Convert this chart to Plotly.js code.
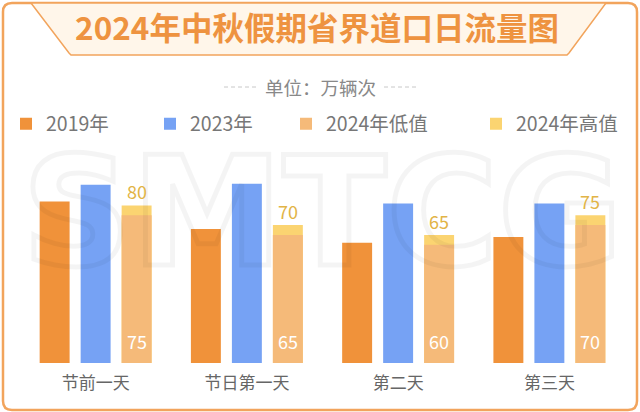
<!DOCTYPE html>
<html>
<head>
<meta charset="utf-8">
<script src="https://cdn.plot.ly/plotly-3.0.1.min.js"></script>
<style>html,body{margin:0;padding:0;background:#fff;}#chart{width:640px;height:412px;}</style>
</head>
<body>
<div id="chart"></div>
<script>
// ---- data ----
const categories = ["节前一天", "节日第一天", "第二天", "第三天"];
const v2019 = [82, 68, 61, 64];
const v2023 = [90.5, 91, 81, 81];
const v2024Low = [75, 65, 60, 70];
const v2024High = [80, 70, 65, 75];
const seriesNames = ["2019年", "2023年", "2024年低值", "2024年高值"];
const titleText = "2024年中秋假期省界道口日流量图";
const unitText = "单位：万辆次";
const watermarkText = "SMTCG";

// ---- layout helpers (pixel -> paper) ----
const W = 640, H = 412;
const M = {l: 20, r: 15, t: 150, b: 49};
const PW = W - M.l - M.r, PH = H - M.t - M.b;
const px = x => (x - M.l) / PW;
const py = y => (H - M.b - y) / PH;

const FONT = '"Noto Sans CJK SC", "Noto Sans", sans-serif';
const orange = '#F0923A', blue = '#76A2F4', lowC = '#F5BA79', highC = '#FBD471';
const barW = 0.198, pitch = 0.271;

function rrect(x0, y0, x1, y1, r) {
  const X = v => px(v).toFixed(5), Y = v => py(v).toFixed(5);
  return `M${X(x0 + r)},${Y(y0)} L${X(x1 - r)},${Y(y0)} Q${X(x1)},${Y(y0)} ${X(x1)},${Y(y0 + r)} ` +
         `L${X(x1)},${Y(y1 - r)} Q${X(x1)},${Y(y1)} ${X(x1 - r)},${Y(y1)} ` +
         `L${X(x0 + r)},${Y(y1)} Q${X(x0)},${Y(y1)} ${X(x0)},${Y(y1 - r)} ` +
         `L${X(x0)},${Y(y0 + r)} Q${X(x0)},${Y(y0)} ${X(x0 + r)},${Y(y0)} Z`;
}
function poly(pts) {
  return 'M' + pts.map(p => px(p[0]).toFixed(5) + ',' + py(p[1]).toFixed(5)).join(' L') + ' Z';
}

const traces = [
  {type: 'bar', name: seriesNames[0], x: categories, y: v2019, width: barW, offset: -pitch - barW / 2,
   marker: {color: orange}, legend: 'legend', hoverinfo: 'skip'},
  {type: 'bar', name: seriesNames[1], x: categories, y: v2023, width: barW, offset: -barW / 2,
   marker: {color: blue}, legend: 'legend2', hoverinfo: 'skip'},
  {type: 'bar', name: seriesNames[3], x: categories, y: v2024High, width: barW, offset: pitch - barW / 2,
   marker: {color: highC}, legend: 'legend4', hoverinfo: 'skip'},
  {type: 'bar', name: seriesNames[2], x: categories, y: v2024Low, width: barW, offset: pitch - barW / 2,
   marker: {color: lowC}, legend: 'legend3', hoverinfo: 'skip'}
];

const groupShift = pitch * PW / 4;
const lowLabels = categories.map((c, i) => ({
  x: c, y: 0, xref: 'x', yref: 'y', xshift: groupShift, yshift: 7, yanchor: 'bottom',
  text: String(v2024Low[i]), showarrow: false, font: {family: FONT, size: 18, color: '#ffffff'}
}));
const highLabels = categories.map((c, i) => ({
  x: c, y: v2024High[i], xref: 'x', yref: 'y', xshift: groupShift, yshift: -1, yanchor: 'bottom',
  text: String(v2024High[i]), showarrow: false, font: {family: FONT, size: 18, color: '#E2B446'}
}));

const legendCommon = {orientation: 'h', xanchor: 'left', yanchor: 'middle', xref: 'container', yref: 'container',
  bgcolor: 'rgba(0,0,0,0)', font: {family: FONT, size: 19.5, color: '#777777'}, itemwidth: 30};
const legY = 1 - 124 / H;

const layout = {
  width: W, height: H, margin: Object.assign({autoexpand: false}, M),
  paper_bgcolor: '#ffffff', plot_bgcolor: 'rgba(0,0,0,0)',
  barmode: 'overlay',
  title: {text: titleText, font: {family: FONT, size: 31.5, color: '#EE9340', weight: 'bold'},
          x: 317 / W, xref: 'container', xanchor: 'center', y: 1 - 29 / H, yref: 'container', yanchor: 'middle'},
  xaxis: {type: 'category', showgrid: false, zeroline: false, showline: false, ticks: '',
          tickfont: {family: FONT, size: 17, color: '#666666'}, ticklabelstandoff: 8, fixedrange: true},
  yaxis: {visible: false, range: [0, PH / 1.97], fixedrange: true},
  legend: Object.assign({}, legendCommon, {x: 6 / W, y: legY}),
  legend2: Object.assign({}, legendCommon, {x: 150 / W, y: legY}),
  legend3: Object.assign({}, legendCommon, {x: 286 / W, y: legY}),
  legend4: Object.assign({}, legendCommon, {x: 476 / W, y: legY}),
  shapes: [
    {type: 'path', xref: 'paper', yref: 'paper', path: rrect(3, 3, 637, 410, 9),
     line: {color: '#F2A45C', width: 2.5}, fillcolor: 'rgba(0,0,0,0)', layer: 'below'},
    {type: 'path', xref: 'paper', yref: 'paper',
     path: poly([[31, 3], [69, 53], [71, 55], [567, 55], [569, 53], [606, 3]]),
     line: {color: '#F2A45C', width: 1.5}, fillcolor: '#FFF6EA', layer: 'below'},
    {type: 'line', xref: 'paper', yref: 'paper', x0: px(224), x1: px(257), y0: py(87), y1: py(87),
     line: {color: '#C8C8C8', width: 1, dash: '4px,3px'}},
    {type: 'line', xref: 'paper', yref: 'paper', x0: px(384), x1: px(417), y0: py(87), y1: py(87),
     line: {color: '#C8C8C8', width: 1, dash: '4px,3px'}}
  ],
  annotations: [
    {text: watermarkText, xref: 'paper', yref: 'paper', x: px(322), y: py(212), xanchor: 'center', yanchor: 'middle',
     showarrow: false, font: {family: '"DejaVu Sans", sans-serif', size: 152, color: 'rgba(0,0,0,0)', weight: 'bold'}},
    {text: unitText, xref: 'paper', yref: 'paper', x: px(320), y: py(87), xanchor: 'center', yanchor: 'middle',
     showarrow: false, font: {family: FONT, size: 18.5, color: '#888888'}}
  ].concat(lowLabels, highLabels),
  showlegend: true
};

Plotly.newPlot('chart', traces, layout, {displayModeBar: false, staticPlot: true}).then(() => {
  document.querySelectorAll('.annotation-text').forEach(el => {
    if (el.textContent === watermarkText) {
      el.style.stroke = 'rgba(0,0,0,0.045)';
      el.style.strokeWidth = '5px';
      el.style.fill = 'none';
    }
  });
});
</script>
</body>
</html>
